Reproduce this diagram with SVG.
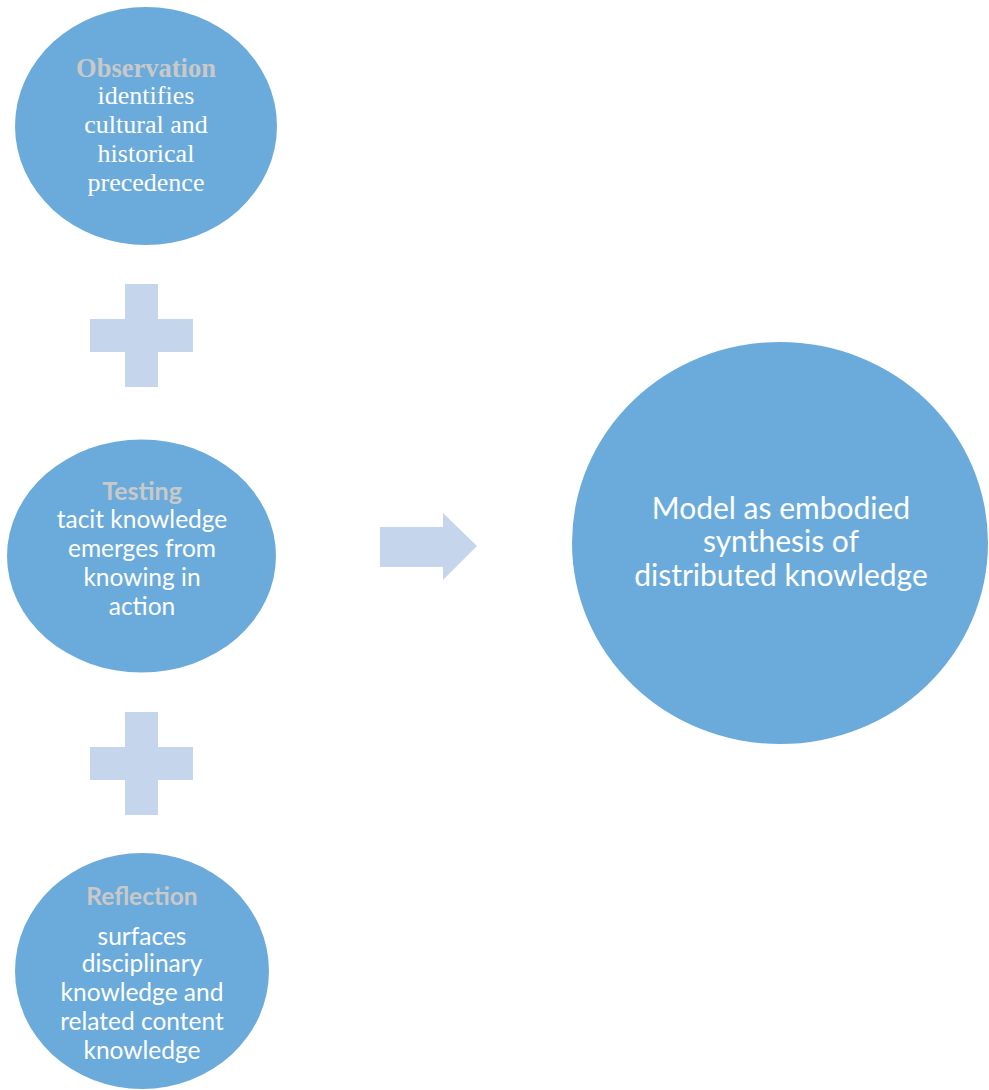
<svg xmlns="http://www.w3.org/2000/svg" width="989" height="1090" viewBox="0 0 989 1090">
<style>
.node{fill:#6BABDB}
.conn{fill:#C5D6EC}
.ser{font-family:"Liberation Serif",serif;text-anchor:middle}
.san{font-family:Lato,"Open Sans",sans-serif;text-anchor:middle}
.ttl{fill:#C9C9C9;font-weight:bold}
.body{fill:#FFFFFF}
</style>
<rect width="989" height="1090" fill="#FFFFFF"/>
<g id="connectors">
<path class="conn" d="M125,284H158V319H193V352H158V387H125V352H90V319H125Z"/>
<path class="conn" d="M125,712H158V747H193V780H158V815H125V780H90V747H125Z"/>
<path class="conn" d="M380,527H443V513L477,546L443,580V567H380Z"/>
</g>
<g id="observation">
<ellipse class="node" cx="146" cy="126" rx="131" ry="119"/>
<text class="ser ttl" x="146" y="77" font-size="26.5">Observation</text>
<text class="ser body" font-size="26"><tspan x="146" y="104">identifies</tspan><tspan x="146" y="133">cultural and</tspan><tspan x="146" y="162">historical</tspan><tspan x="146" y="191">precedence</tspan></text>
</g>
<g id="testing">
<ellipse class="node" cx="141.5" cy="556" rx="134.5" ry="116.5"/>
<text class="san ttl" x="142" y="500" font-size="25">Testing</text>
<text class="san body" font-size="24.5"><tspan x="142" y="528">tacit knowledge</tspan><tspan x="142" y="557">emerges from</tspan><tspan x="142" y="586">knowing in</tspan><tspan x="142" y="615">action</tspan></text>
</g>
<g id="reflection">
<ellipse class="node" cx="142" cy="971" rx="127" ry="118"/>
<text class="san ttl" x="142" y="905" font-size="24.5">Reflection</text>
<text class="san body" font-size="24.5"><tspan x="142" y="945">surfaces</tspan><tspan x="142" y="972">disciplinary</tspan><tspan x="142" y="1001">knowledge and</tspan><tspan x="142" y="1030">related content</tspan><tspan x="142" y="1059">knowledge</tspan></text>
</g>
<g id="model">
<ellipse class="node" cx="780" cy="543" rx="208" ry="201"/>
<text class="san body" font-size="30"><tspan x="781" y="519">Model as embodied</tspan><tspan x="781" y="552">synthesis of</tspan><tspan x="781" y="586">distributed knowledge</tspan></text>
</g>
</svg>
